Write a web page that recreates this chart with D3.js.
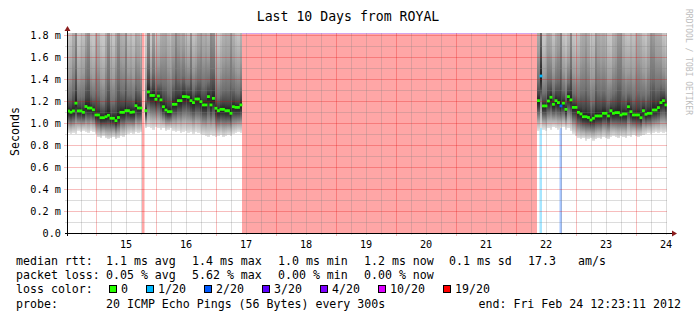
<!DOCTYPE html>
<html>
<head>
<meta charset="utf-8">
<script src="https://cdn.jsdelivr.net/npm/d3@7"></script>
<style>
body { margin: 0; background: #fff; }
text { font-family: "DejaVu Sans Mono", monospace; }
</style>
</head>
<body>
<script>
// hourly RRA columns, counted from the start of the 10 day window
var seg1Start = 0;
var seg1Median = [1.109,1.098,1.110,1.180,1.110,1.110,1.097,1.150,1.136,1.136,
    1.120,1.073,1.073,1.048,1.048,1.057,1.070,1.043,1.043,1.021,
    1.050,1.097,1.097,1.112,1.112,1.097,1.100,1.157,1.136,1.136,
    null,1.112,1.282,1.250,1.250,1.215,1.245,1.210,1.148,1.118,
    1.103,1.103,1.170,1.170,1.203,1.203,1.240,1.240,1.235,1.203,
    1.185,1.218,1.218,1.194,1.164,1.164,1.240,1.164,1.224,1.134,
    1.112,1.124,1.124,1.112,1.112,1.088,1.148,1.142,1.142,1.164];
var seg1Low = [0.91,0.90,0.91,0.90,0.93,0.92,0.93,0.92,0.91,0.93,
    0.92,0.90,0.87,0.86,0.88,0.86,0.85,0.86,0.87,0.85,
    0.86,0.88,0.87,0.89,0.90,0.91,0.90,0.92,0.91,0.92,
    null,0.95,0.96,0.95,0.94,0.96,0.95,0.94,0.95,0.93,
    0.94,0.95,0.93,0.92,0.93,0.91,0.92,0.93,0.91,0.92,
    0.90,0.92,0.91,0.90,0.89,0.88,0.87,0.89,0.88,0.87,
    0.88,0.89,0.87,0.88,0.89,0.88,0.90,0.91,0.92,0.91];
var seg1High = [2.1,2.2,2.7,4.0,2.1,2.2,2.3,3.0,3.6,2.2,
    2.1,2.8,2.6,2.2,2.1,2.7,3.8,2.3,2.2,2.9,
    3.9,2.7,2.6,3.7,2.3,2.5,2.2,2.8,2.6,2.3,
    null,2.0,3.5,2.0,3.0,2.1,2.2,2.6,2.8,3.0,
    2.5,2.3,2.7,3.8,2.9,2.6,2.8,2.3,2.2,3.4,
    2.2,2.3,2.7,3.0,2.6,2.8,2.4,4.0,3.5,2.2,
    2.1,2.3,2.6,2.8,2.7,3.6,2.6,2.3,2.2,2.5];

var seg2Start = 188;
var seg2Median = [1.203,1.427,1.155,1.155,1.200,1.234,1.170,1.203,1.185,1.155,
    1.180,1.124,1.240,1.210,1.142,1.142,1.097,1.082,1.057,1.057,
    1.050,1.027,1.043,1.064,1.064,1.064,1.088,1.088,1.064,1.112,
    1.088,1.094,1.094,1.073,1.082,1.082,1.148,1.103,1.073,1.073,
    1.073,1.048,1.112,1.079,1.088,1.088,1.118,1.118,1.140,1.185,
    1.203,1.164];
var seg2Low = [0.93,0.95,0.94,0.93,0.95,0.94,0.96,0.95,0.94,0.95,
    0.96,0.94,0.95,0.93,0.90,0.88,0.86,0.85,0.86,0.84,
    0.85,0.86,0.84,0.85,0.86,0.85,0.87,0.86,0.85,0.87,
    0.88,0.87,0.86,0.88,0.87,0.86,0.88,0.87,0.89,0.88,
    0.87,0.88,0.89,0.90,0.91,0.90,0.91,0.92,0.91,0.92,
    0.91,0.92];
var seg2High = [2.7,5.0,2.1,2.2,2.8,2.6,2.2,2.6,2.9,4.2,
    2.2,2.1,2.3,3.8,2.2,2.1,2.3,2.7,2.9,3.4,
    2.8,2.2,2.3,3.6,2.9,2.7,2.8,2.6,2.2,2.1,
    2.6,2.8,3.5,3.7,2.6,2.3,2.2,2.5,2.3,2.6,
    2.8,2.7,2.3,2.2,2.6,3.6,3.4,2.8,2.7,2.6,
    2.2,2.1];

// packet loss periods (hour columns) and pings lost out of 20
var lossStart = [30, 70, 189, 197];
var lossEnd   = [31, 188, 190, 198];
var lossCount = [19, 20, 1, 2];

var lossThresh = [0, 1, 2, 3, 4, 10, 19];
var lossLabels = ["0", "1/20", "2/20", "3/20", "4/20", "10/20", "19/20"];
var lossColors = ["#26ff00", "#00b8ff", "#0059ff", "#5e00ff", "#7e00ff", "#dd00ff", "#ff0000"];

var yTicks = [0, 0.2, 0.4, 0.6, 0.8, 1.0, 1.2, 1.4, 1.6, 1.8];
var yMinor = [0.1, 0.3, 0.5, 0.7, 0.9, 1.1, 1.3, 1.5, 1.7];

var rttLabel = "median rtt:";
var rttStats = ["1.1 ms avg", "1.4 ms max", "1.0 ms min", "1.2 ms now", "0.1 ms sd", "17.3", "am/s"];
var lossLabel = "packet loss:";
var lossStats = ["0.05 % avg", "5.62 % max", "0.00 % min", "0.00 % now"];
var probeText = "20 ICMP Echo Pings (56 Bytes) every 300s";
var endText = "end: Fri Feb 24 12:23:11 2012";
var titleText = "Last 10 Days from ROYAL";

var endTime = new Date(2012, 1, 24, 12, 23, 11);
var startTime = new Date(+endTime - 10 * 864e5);
function hourTime(h) { return new Date(+startTime + h * 36e5); }

var svg = d3.select("body").append("svg")
    .attr("width", 697).attr("height", 321);

var x = d3.scaleTime().domain([startTime, endTime]).range([67, 667]);
var y = d3.scaleLinear().domain([0, 1.818]).range([233, 33]);

var defs = svg.append("defs");
defs.append("clipPath").attr("id", "plot").append("rect")
    .attr("x", 67).attr("y", 33).attr("width", 600).attr("height", 200);

function gradient(id, stops, upward) {
    var g = defs.append("linearGradient").attr("id", id)
        .attr("x1", 0).attr("x2", 0)
        .attr("y1", upward ? 1 : 0).attr("y2", upward ? 0 : 1);
    stops.forEach(function (s) {
        g.append("stop").attr("offset", s[0]).attr("stop-color", s[1]);
    });
}
gradient("upSmoke", [[0, "#1e1e1e"], [0.04, "#444444"], [0.12, "#707070"],
    [0.3, "#9c9c9c"], [0.6, "#c2c2c2"], [1, "#d8d8d8"]], true);
gradient("lowSmoke", [[0, "#1c1c1c"], [0.2, "#3c3c3c"], [0.45, "#747474"],
    [0.7, "#acacac"], [1, "#e4e4e4"]], false);

function lossColor(n) {
    var k = 0;
    lossThresh.forEach(function (t, i) { if (n >= t) k = i; });
    return lossColors[k];
}
function lossAt(h) {
    for (var i = 0; i < lossStart.length; i++)
        if (h >= lossStart[i] && h < lossEnd[i]) return lossCount[i];
    return 0;
}

var plot = svg.append("g").attr("clip-path", "url(#plot)");

// loss bars, full height, pale version of the loss colour
plot.selectAll("rect.loss")
    .data(lossStart.map(function (s, i) { return { s: s, e: lossEnd[i], n: lossCount[i] }; }))
    .enter().append("rect")
    .attr("class", "loss")
    .attr("x", function (d) { return x(hourTime(d.s)); })
    .attr("width", function (d) { return x(hourTime(d.e)) - x(hourTime(d.s)); })
    .attr("y", 33).attr("height", 200)
    .attr("fill", function (d) { return d3.interpolateRgb(lossColor(d.n), "#fff")(0.65); });

// thin line on top of the long outage
plot.append("line")
    .attr("x1", x(hourTime(lossStart[1]))).attr("x2", x(hourTime(lossEnd[1])))
    .attr("y1", 33.5).attr("y2", 33.5)
    .attr("stroke", "#c8a6ff").attr("stroke-opacity", 0.8);

// collect columns of both segments
var cols = [];
[[seg1Start, seg1Median, seg1Low, seg1High], [seg2Start, seg2Median, seg2Low, seg2High]].forEach(function (s) {
    s[1].forEach(function (m, i) {
        if (m == null) return;
        cols.push({ h: s[0] + i, med: m, lo: s[2][i], hi: s[3][i] });
    });
});

var smoke = plot.append("g").attr("shape-rendering", "crispEdges");
cols.forEach(function (c) {
    var x0 = x(hourTime(c.h)), x1 = x(hourTime(c.h + 1));
    smoke.append("rect")
        .attr("x", x0).attr("width", x1 - x0 + 0.4)
        .attr("y", y(c.hi)).attr("height", y(c.med) - y(c.hi))
        .attr("fill", "url(#upSmoke)");
    smoke.append("rect")
        .attr("x", x0).attr("width", x1 - x0 + 0.4)
        .attr("y", y(c.med)).attr("height", y(c.lo) - y(c.med))
        .attr("fill", "url(#lowSmoke)");
});

// grid, drawn over the data
var grid = svg.append("g").attr("shape-rendering", "crispEdges");
var days = d3.timeDay.range(startTime, endTime);
var sixHours = d3.timeHour.every(6).range(startTime, endTime)
    .filter(function (d) { return d.getHours() !== 0; });

grid.selectAll("line.vmin").data(sixHours).enter().append("line")
    .attr("x1", function (d) { return Math.round(x(d)) + 0.5; })
    .attr("x2", function (d) { return Math.round(x(d)) + 0.5; })
    .attr("y1", 33).attr("y2", 235)
    .attr("stroke", "rgba(128,128,128,0.28)");
grid.selectAll("line.hmin").data(yMinor).enter().append("line")
    .attr("x1", 65).attr("x2", 667)
    .attr("y1", function (d) { return Math.round(y(d)) + 0.5; })
    .attr("y2", function (d) { return Math.round(y(d)) + 0.5; })
    .attr("stroke", "rgba(128,128,128,0.28)");
grid.selectAll("line.vmaj").data(days).enter().append("line")
    .attr("x1", function (d) { return Math.round(x(d)) + 0.5; })
    .attr("x2", function (d) { return Math.round(x(d)) + 0.5; })
    .attr("y1", 33).attr("y2", 236)
    .attr("stroke", "rgba(225,0,0,0.26)");
grid.selectAll("line.hmaj").data(yTicks.slice(1)).enter().append("line")
    .attr("x1", 64).attr("x2", 667)
    .attr("y1", function (d) { return Math.round(y(d)) + 0.5; })
    .attr("y2", function (d) { return Math.round(y(d)) + 0.5; })
    .attr("stroke", "rgba(225,0,0,0.26)");

// median markers coloured by loss
svg.append("g").attr("clip-path", "url(#plot)").selectAll("rect")
    .data(cols).enter().append("rect")
    .attr("x", function (d) { return x(hourTime(d.h)); })
    .attr("width", function (d) { return x(hourTime(d.h + 1)) - x(hourTime(d.h)) + 0.4; })
    .attr("y", function (d) { return y(d.med) - 1.4; })
    .attr("height", 2.8)
    .attr("fill", function (d) { return lossColor(lossAt(d.h)); });

// axes
svg.append("line").attr("x1", 65).attr("x2", 673).attr("y1", 233.5).attr("y2", 233.5)
    .attr("stroke", "#000");
svg.append("line").attr("x1", 67.5).attr("x2", 67.5).attr("y1", 236).attr("y2", 30)
    .attr("stroke", "#000");
svg.append("path").attr("d", "M672,230.5 L677,233.5 L672,236.5 Z").attr("fill", "#8b1c1c");
svg.append("path").attr("d", "M64.5,31 L67.5,26 L70.5,31 Z").attr("fill", "#8b1c1c");

svg.selectAll("text.ytick").data(yTicks).enter().append("text")
    .attr("x", 61).attr("y", function (d) { return y(d) + 3.6; })
    .attr("text-anchor", "end").attr("font-size", "10.2px")
    .text(function (d) { return d === 0 ? "0.0" : d.toFixed(1) + " m"; });

var noons = days.map(function (d) { return d3.timeHour.offset(d, 12); })
    .filter(function (d) { return d <= endTime; });
svg.selectAll("text.xtick").data(noons).enter().append("text")
    .attr("x", function (d) { return x(d); }).attr("y", 248)
    .attr("text-anchor", "middle").attr("font-size", "10.2px")
    .text(d3.timeFormat("%d"));

svg.append("text").attr("transform", "translate(18.5,131.5) rotate(-90)")
    .attr("text-anchor", "middle").attr("font-size", "11.6px").text("Seconds");

svg.append("text").attr("x", 348).attr("y", 21.3)
    .attr("text-anchor", "middle").attr("font-size", "13.2px").text(titleText);

svg.append("text").attr("transform", "translate(685.5,62) rotate(90)")
    .attr("text-anchor", "middle").attr("font-size", "8px").attr("fill", "#bdbdbd")
    .text("RRDTOOL / TOBI OETIKER");

// legend
var leg = svg.append("g").attr("font-size", "11.6px");
var statX = [106, 192, 278, 364, 449, 528, 578];
leg.append("text").attr("x", 16).attr("y", 265).text(rttLabel);
rttStats.forEach(function (s, i) {
    leg.append("text").attr("x", statX[i]).attr("y", 265).text(s);
});
leg.append("text").attr("x", 16).attr("y", 279.2).text(lossLabel);
lossStats.forEach(function (s, i) {
    leg.append("text").attr("x", statX[i]).attr("y", 279.2).text(s);
});
leg.append("text").attr("x", 16).attr("y", 293.4).text("loss color:");
var bx = 109;
lossLabels.forEach(function (l, i) {
    leg.append("rect").attr("x", bx + 0.5).attr("y", 285.5).attr("width", 7).attr("height", 7)
        .attr("fill", lossColors[i]).attr("stroke", "#000");
    leg.append("text").attr("x", bx + 12).attr("y", 293.4).text(l);
    bx += 12 + 7 * l.length + 18;
});
leg.append("text").attr("x", 16).attr("y", 307.6).text("probe:");
leg.append("text").attr("x", 106).attr("y", 307.6).text(probeText);
leg.append("text").attr("x", 478.5).attr("y", 307.6).text(endText);
</script>
</body>
</html>
